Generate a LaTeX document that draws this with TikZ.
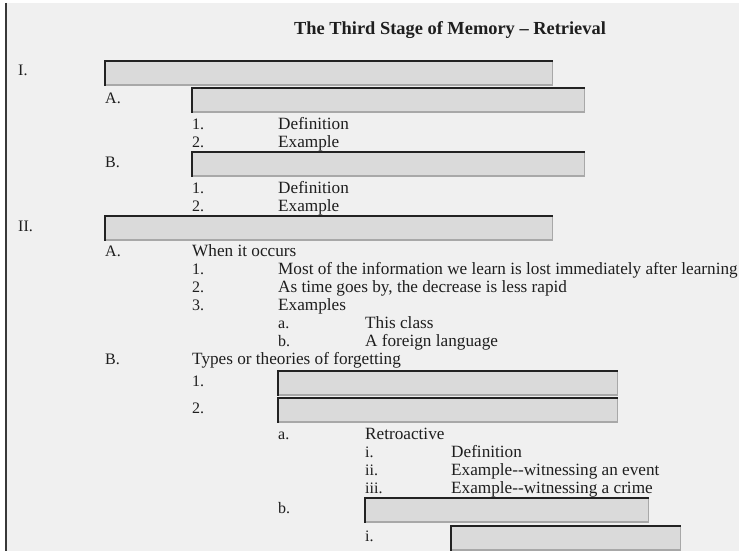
\documentclass[tikz,border=0pt]{standalone}
\usepackage{fontspec}
\setmainfont{Liberation Serif}
\definecolor{pagebg}{HTML}{F0F0F0}
\definecolor{boxfill}{HTML}{DADADA}
\definecolor{edgedark}{HTML}{222222}
\definecolor{edgelight}{HTML}{A8A8A8}
\definecolor{inktext}{HTML}{1E1E1E}
\begin{document}
\begin{tikzpicture}[x=1pt,y=-1pt,
  txt/.style={anchor=base west, inner sep=0pt, text=inktext, font=\fontsize{17.2}{18}\selectfont},
  lbl/.style={anchor=base west, inner sep=0pt, text=inktext, font=\fontsize{16}{18}\selectfont},
  ttl/.style={anchor=base, inner sep=0pt, text=inktext, font=\fontsize{18.4}{20}\selectfont\bfseries},
  fieldbox/.style={anchor=north west, fill=boxfill, inner sep=0pt, minimum height=23.5pt},
  darkedge/.style={draw=edgedark, line width=1.7pt, line cap=rect},
  lightedge/.style={draw=edgelight, line width=1.3pt},
  rule/.style={draw=edgedark!90, line width=2pt}]
\useasboundingbox (0,0) rectangle (739,551);
\fill[white] (0,0) rectangle (739,551);
\fill[pagebg] (7,3) rectangle (739,551);
\coordinate (ruletop) at (6,3);
\coordinate (rulebot) at (6,551);
\draw[rule] (ruletop) -- (rulebot);

% title
\node[ttl] (title) at (450,35) {The Third Stage of Memory – Retrieval};

% boxes
\node[fieldbox, minimum width=447pt] (bI) at (105,61) {};
\node[fieldbox, minimum width=392pt] (bIA) at (192,88) {};
\node[fieldbox, minimum width=392pt] (bIB) at (192,152) {};
\node[fieldbox, minimum width=447pt] (bII) at (105,216) {};
\node[fieldbox, minimum width=339pt] (bIIB1) at (278,371) {};
\node[fieldbox, minimum width=339pt] (bIIB2) at (278,398) {};
\node[fieldbox, minimum width=283pt] (bIIB2b) at (365,498) {};
\node[fieldbox, minimum width=229pt] (bIIB2bi) at (451,526) {};
\foreach \n in {bI,bIA,bIB,bII,bIIB1,bIIB2,bIIB2b,bIIB2bi}{
  \draw[lightedge] (\n.north east) -- (\n.south east) -- (\n.south west);
  \draw[darkedge] (\n.south west) -- (\n.north west) -- (\n.north east);
}

% I
\node[lbl] (lI) at (18,75) {I.};
\node[lbl] (lIA) at (105,103) {A.};
\node[lbl] (lIA1) at (192,129) {1.};
\node[txt] (tIA1) at (278,129) {Definition};
\node[lbl] (lIA2) at (192,147) {2.};
\node[txt] (tIA2) at (278,147) {Example};
\node[lbl] (lIB) at (105,167) {B.};
\node[lbl] (lIB1) at (192,193) {1.};
\node[txt] (tIB1) at (278,193) {Definition};
\node[lbl] (lIB2) at (192,211) {2.};
\node[txt] (tIB2) at (278,211) {Example};

% II
\node[lbl] (lII) at (18,231) {II.};
\node[lbl] (lIIA) at (105,256) {A.};
\node[txt] (tIIA) at (192,256) {When it occurs};
\node[lbl] (lIIA1) at (192,274) {1.};
\node[txt] (tIIA1) at (278,274) {Most of the information we learn is lost immediately after learning};
\node[lbl] (lIIA2) at (192,292) {2.};
\node[txt] (tIIA2) at (278,292) {As time goes by, the decrease is less rapid};
\node[lbl] (lIIA3) at (192,310) {3.};
\node[txt] (tIIA3) at (278,310) {Examples};
\node[lbl] (lIIA3a) at (278,328) {a.};
\node[txt] (tIIA3a) at (365,328) {This class};
\node[lbl] (lIIA3b) at (278,346) {b.};
\node[txt] (tIIA3b) at (365,346) {A foreign language};
\node[lbl] (lIIB) at (105,364) {B.};
\node[txt] (tIIB) at (192,364) {Types or theories of forgetting};
\node[lbl] (lIIB1) at (192,386) {1.};
\node[lbl] (lIIB2) at (192,413) {2.};
\node[lbl] (lIIB2a) at (278,439) {a.};
\node[txt] (tIIB2a) at (365,439) {Retroactive};
\node[lbl] (lIIB2ai) at (365,457) {i.};
\node[txt] (tIIB2ai) at (451,457) {Definition};
\node[lbl] (lIIB2aii) at (365,475) {ii.};
\node[txt] (tIIB2aii) at (451,475) {Example{-}{-}witnessing an event};
\node[lbl] (lIIB2aiii) at (365,493) {iii.};
\node[txt] (tIIB2aiii) at (451,493) {Example{-}{-}witnessing a crime};
\node[lbl] (lIIB2b) at (278,513) {b.};
\node[lbl] (lIIB2bi) at (365,541) {i.};
\end{tikzpicture}
\end{document}
